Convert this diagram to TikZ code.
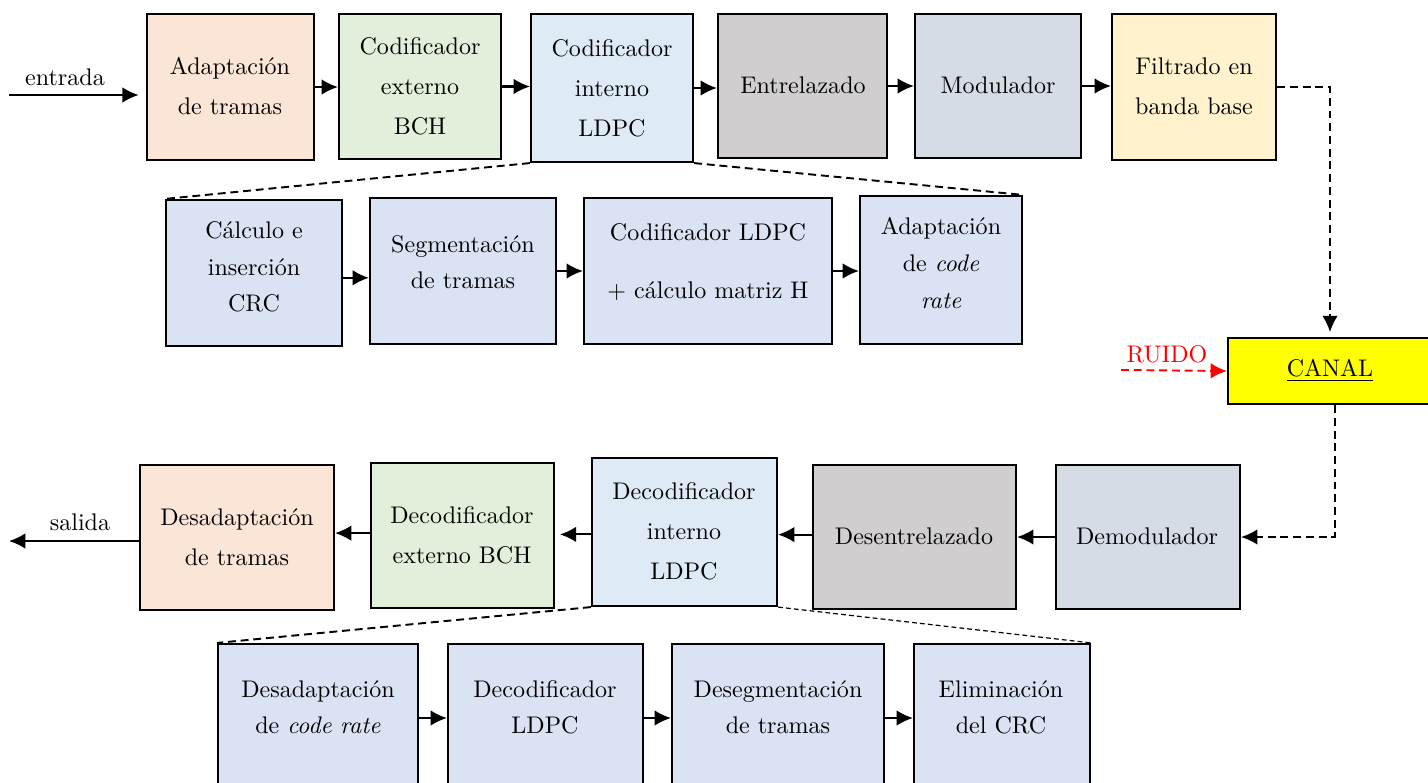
\documentclass[tikz,border=0pt]{standalone}
\usepackage{fontspec}
\usetikzlibrary{arrows.meta}
\definecolor{cPeach}{HTML}{FBE5D6}
\definecolor{cGreen}{HTML}{E2EFDA}
\definecolor{cLBlue}{HTML}{DEEBF7}
\definecolor{cGrey}{HTML}{D0CECE}
\definecolor{cMod}{HTML}{D6DCE5}
\definecolor{cCream}{HTML}{FFF2CC}
\definecolor{cSub}{HTML}{DAE3F3}
\definecolor{cYel}{HTML}{FFFF00}
\begin{document}
\begin{tikzpicture}[x=0.416pt,y=-0.416pt,
  blk/.style={draw, line width=0.9pt, inner sep=0pt},
  sz/.style 2 args={minimum width=#1*0.416pt, minimum height=#2*0.416pt},
  txt/.style={align=center, font=\fontsize{10}{#1}\selectfont, inner sep=0pt},
  arr/.style={line width=0.85pt, -{Latex[length=6.8pt,width=6.5pt]}},
  dsh/.style={line width=0.8pt, dash pattern=on 3.3pt off 2pt},
  fine/.style={line width=0.5pt, dash pattern=on 2pt off 1.3pt},
]
\useasboundingbox (0,0) rectangle (1428,782);
\clip (0,0) rectangle (1428,782);

% ---- top row
\node[blk, sz={167}{146}, fill=cPeach] (A1) at (230.5,87) {};
\node[txt=16.6] (tA1) at (230,86) {Adaptación\\de tramas};
\node[blk, sz={162}{145}, fill=cGreen] (A2) at (420,86.5) {};
\node[txt=16.6] (tA2) at (420,86) {Codificador\\externo\\BCH};
\node[blk, sz={162}{148}, fill=cLBlue] (A3) at (612,88) {};
\node[txt=16.6] (tA3) at (612,88) {Codificador\\interno\\LDPC};
\node[blk, sz={169}{144}, fill=cGrey] (A4) at (802.5,86) {};
\node[txt=16.6] (tA4) at (803,85) {Entrelazado};
\node[blk, sz={166}{144}, fill=cMod] (A5) at (998,86) {};
\node[txt=16.6] (tA5) at (998,85) {Modulador};
\node[blk, sz={164}{146}, fill=cCream] (A6) at (1194,87) {};
\node[txt=16.6] (tA6) at (1194,86) {Filtrado en\\banda base};

\coordinate (in) at (9,95);
\node[txt=12] (lin) at (65,77) {entrada};
\draw[arr, shorten >=3pt] (in) -- (in -| A1.west);
\draw[arr] (A1.east) -- (A1.east -| A2.west);
\draw[arr] (A2.east) -- (A2.east -| A3.west);
\draw[arr] (A3.east) -- (A3.east -| A4.west);
\draw[arr] (A4.east) -- (A4.east -| A5.west);
\draw[arr] (A5.east) -- (A5.east -| A6.west);

% ---- encoder detail
\node[blk, sz={176}{146}, fill=cSub] (B1) at (254,273) {};
\node[txt=15.2] (tB1) at (254,267) {Cálculo e\\inserción\\CRC};
\node[blk, sz={186}{146}, fill=cSub] (B2) at (463,271) {};
\node[txt=15.2] (tB2) at (463,262) {Segmentación\\de tramas};
\node[blk, sz={248}{146}, fill=cSub] (B3) at (708,271) {};
\node[txt=15.2] (tB3) at (708,262) {Codificador LDPC\\[9pt]+ cálculo matriz H};
\node[blk, sz={162}{148}, fill=cSub] (B4) at (941,270) {};
\node[txt=15.2] (tB4) at (941,263) {Adaptación\\de \emph{code}\\\emph{rate}};

\draw[arr] ([yshift=-2pt]B1.east) -- ([yshift=-2pt]B1.east -| B2.west);
\draw[arr] (B2.east) -- (B2.east -| B3.west);
\draw[arr] (B3.east) -- (B3.east -| B4.west);
\draw[dsh] (A3.south west) -- (B1.north west);
\draw[dsh] (A3.south east) -- (B4.north east);

% ---- channel
\node[blk, sz={204}{66}, fill=cYel] (CANAL) at (1330,371) {\underline{CANAL}};
\node[text=red, inner sep=0pt] (ruido) at (1167,354) {RUIDO};
\coordinate (rs) at (1121,370);
\draw[arr, dsh, red] (rs) -- (CANAL.west);
\draw[arr, dsh, shorten >=2pt] (A6.east) -| (CANAL.north);

% ---- receiver row
\node[blk, sz={194}{145}, fill=cPeach] (C1) at (237,537.5) {};
\node[txt=16.6] (tC1) at (237,537) {Desadaptación\\de tramas};
\node[blk, sz={183}{145}, fill=cGreen] (C2) at (462.5,535.5) {};
\node[txt=16.6] (tC2) at (462,535) {Decodificador\\externo BCH};
\node[blk, sz={185}{148}, fill=cLBlue] (C3) at (684.5,532) {};
\node[txt=16.6] (tC3) at (684,531) {Decodificador\\interno\\LDPC};
\node[blk, sz={203}{144}, fill=cGrey] (C4) at (914.5,537) {};
\node[txt=16.6] (tC4) at (914,536) {Desentrelazado};
\node[blk, sz={184}{144}, fill=cMod] (C5) at (1148,537) {};
\node[txt=16.6] (tC5) at (1147,536) {Demodulador};

\draw[arr, dsh] ([xshift=2pt]CANAL.south) |- (C5.east);
\draw[arr] (C5.west) -- (C5.west -| C4.east);
\draw[arr] ([yshift=1pt]C4.west) -- ([yshift=1pt]C4.west -| C3.east);
\draw[arr, shorten >=2pt] ([yshift=-1pt]C3.west) -- ([yshift=-1pt]C3.west -| C2.east);
\draw[arr] ([yshift=1pt]C2.west) -- ([yshift=1pt]C2.west -| C1.east);
\coordinate (out) at (9,541);
\node[txt=12] (lout) at (80,522) {salida};
\draw[arr] (C1.west |- out) -- (out);

% ---- decoder detail
\node[blk, sz={200}{150}, fill=cSub] (D1) at (318,719) {};
\node[txt=15] (tD1) at (318,707) {Desadaptación\\de \emph{code rate}};
\node[blk, sz={195}{150}, fill=cSub] (D2) at (545.5,719) {};
\node[txt=15] (tD2) at (545,707) {Decodificador\\LDPC};
\node[blk, sz={212}{150}, fill=cSub] (D3) at (778,719) {};
\node[txt=15] (tD3) at (778,707) {Desegmentación\\de tramas};
\node[blk, sz={176}{150}, fill=cSub] (D4) at (1002,719) {};
\node[txt=15] (tD4) at (1001,707) {Eliminación\\del CRC};

\coordinate (r4) at (0,718);
\draw[arr] (D1.east |- r4) -- (D2.west |- r4);
\draw[arr] (D2.east |- r4) -- (D3.west |- r4);
\draw[arr] (D3.east |- r4) -- (D4.west |- r4);
\draw[dsh] (C3.south west) -- (D1.north west);
\draw[fine] (C3.south east) -- (D4.north east);
\end{tikzpicture}
\end{document}
